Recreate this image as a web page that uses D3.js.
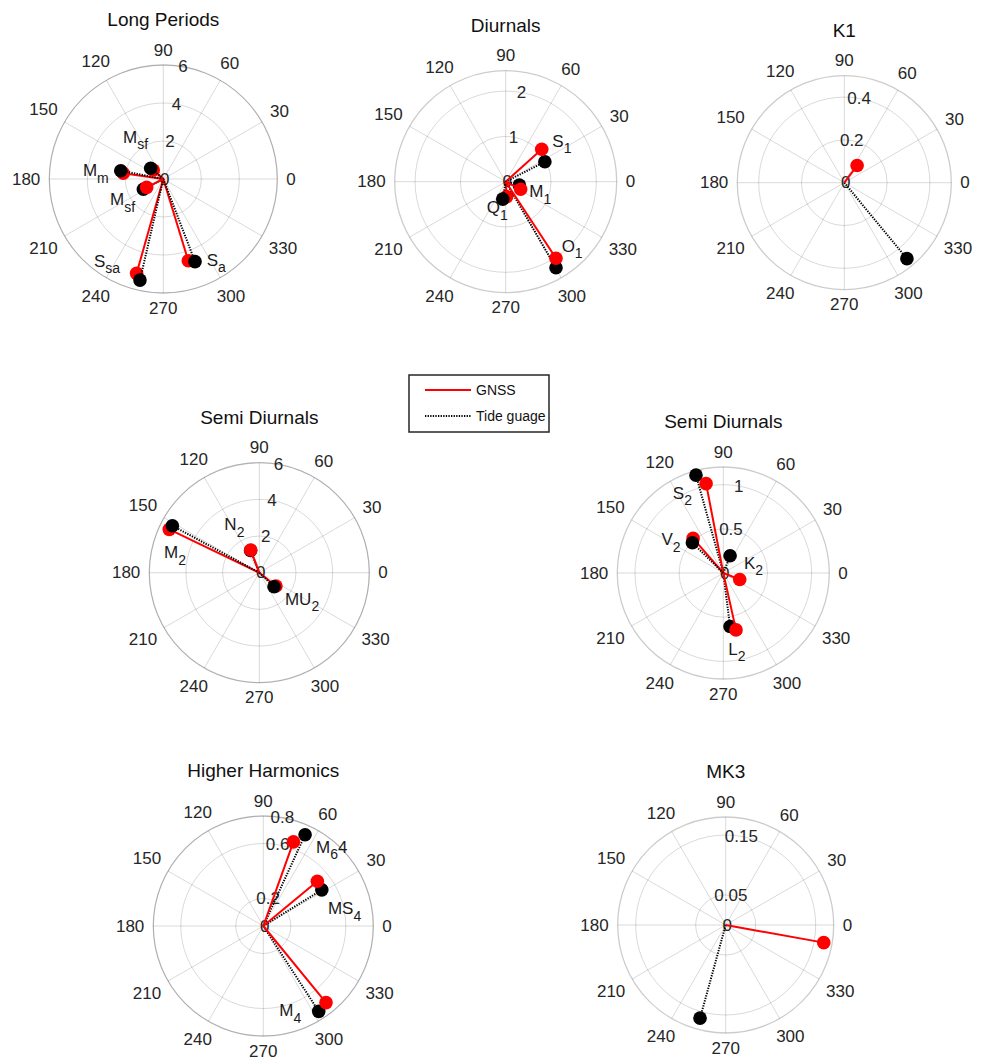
<!DOCTYPE html>
<html>
<head>
<meta charset="utf-8">
<script src="https://cdn.jsdelivr.net/npm/d3@7"></script>
<style>
  html, body { margin: 0; padding: 0; background: #fff; }
  svg { display: block; font-family: "Liberation Sans", Arial, Helvetica, sans-serif; }
</style>
</head>
<body>
<svg id="chart" width="986" height="1062"></svg>
<script>
// Tidal constituent amplitudes (cm) and phases (degrees), GNSS vs tide gauge.
// Labels use TeX-style subscripts, e.g. "M_{sf}".

// Long periods
const lpNames       = ["S_{a}", "S_{sa}", "M_{m}", "M_{sf}", "M_{sf}"];
const lpGnssAmp     = [4.50, 5.16, 2.13, 0.71, 0.98];
const lpGnssPhase   = [287.0, 254.2, 171.9, 138.0, 206.6];
const lpTideAmp     = [4.66, 5.46, 2.28, 0.87, 1.18];
const lpTidePhase   = [291.0, 257.0, 169.0, 139.7, 207.3];
const lpTicks       = [0, 2, 4, 6];
const lpRMax        = 6;

// Diurnals
const diNames       = ["S_{1}", "M_{1}", "Q_{1}", "O_{1}"];
const diGnssAmp     = [1.07, 0.37, 0.33, 2.02];
const diGnssPhase   = [42.0, 333.1, 273.8, 303.3];
const diTideAmp     = [0.97, 0.31, 0.39, 2.20];
const diTidePhase   = [27.0, 346.4, 260.3, 300.3];
const diTicks       = [0, 1, 2];
const diRMax        = 2.45;

// K1
const k1Names       = ["K_{1}"];
const k1GnssAmp     = [0.10];
const k1GnssPhase   = [53.2];
const k1TideAmp     = [0.46];
const k1TidePhase   = [309.5];
const k1Ticks       = [0, 0.2, 0.4];
const k1RMax        = 0.5;

// Semi diurnals (large)
const sdaNames      = ["M_{2}", "N_{2}", "MU_{2}"];
const sdaGnssAmp    = [5.45, 1.32, 1.16];
const sdaGnssPhase  = [154.3, 110.7, 321.5];
const sdaTideAmp    = [5.39, 1.30, 1.11];
const sdaTidePhase  = [151.6, 111.5, 316.4];
const sdaTicks      = [0, 2, 4, 6];
const sdaRMax       = 6;

// Semi diurnals (small)
const sdbNames      = ["S_{2}", "V_{2}", "K_{2}", "L_{2}"];
const sdbGnssAmp    = [1.03, 0.52, 0.20, 0.66];
const sdbGnssPhase  = [100.9, 131.1, 338.4, 282.6];
const sdbTideAmp    = [1.15, 0.49, 0.21, 0.61];
const sdbTidePhase  = [105.6, 135.6, 68.5, 277.2];
const sdbTicks      = [0, 0.5, 1];
const sdbRMax       = 1.2;

// Higher harmonics
const hhNames       = ["M_{6}4", "MS_{4}", "M_{4}"];
const hhGnssAmp     = [0.65, 0.51, 0.72];
const hhGnssPhase   = [70.3, 39.6, 309.3];
const hhTideAmp     = [0.73, 0.50, 0.74];
const hhTidePhase   = [65.4, 31.7, 303.0];
const hhTicks       = [0, 0.2, 0.6, 0.8];
const hhRMax        = 0.8;

// MK3
const mk3Names      = ["MK_{3}"];
const mk3GnssAmp    = [0.166];
const mk3GnssPhase  = [349.8];
const mk3TideAmp    = [0.161];
const mk3TidePhase  = [254.6];
const mk3Ticks      = [0, 0.05, 0.15];
const mk3RMax       = 0.18;

const angleTicks = [0, 30, 60, 90, 120, 150, 180, 210, 240, 270, 300, 330];
const legendLabels = ["GNSS", "Tide guage"];

// ---- layout ----
const layout = [
  { title: "Long Periods",     cx: 163.3, cy: 179.0, R: 114,
    labelOffsets: [[18.4, 5], [-42.7, -6.6], [-40.3, 2.7], [-30.3, -27], [-36.7, 17.7]],
    tideOnTop: [true, true, true, true, false] },
  { title: "Diurnals",         cx: 505.7, cy: 181.7, R: 111,
    labelOffsets: [[10.6, -2.6], [8.6, 8], [-20, 16.6], [5.7, -6.6]],
    tideOnTop: [false, false, true, false] },
  { title: "K1",               cx: 844.3, cy: 182.7, R: 107,
    labelOffsets: null, tideOnTop: [false] },
  { title: "Semi Diurnals",    cx: 259.3, cy: 572.7, R: 110,
    labelOffsets: [[-5.3, 29], [-26.4, -20], [9, 19]],
    tideOnTop: [true, false, true] },
  { title: "Semi Diurnals",    cx: 723.3, cy: 573.0, R: 106,
    labelOffsets: [[-33.3, 15], [-31.6, 6.7], [4.3, -11], [-7.7, 25]],
    tideOnTop: [false, true, false, false] },
  { title: "Higher Harmonics", cx: 263.3, cy: 926.0, R: 110,
    labelOffsets: [[22.7, 11], [10.6, 33], [-46.7, 13.7]],
    tideOnTop: [false, false, false] },
  { title: "MK3",              cx: 725.7, cy: 925.0, R: 108,
    labelOffsets: null, tideOnTop: [false] }
];

const dataSets = [
  { names: lpNames,  gAmp: lpGnssAmp,  gPh: lpGnssPhase,  tAmp: lpTideAmp,  tPh: lpTidePhase,  ticks: lpTicks,  rMax: lpRMax },
  { names: diNames,  gAmp: diGnssAmp,  gPh: diGnssPhase,  tAmp: diTideAmp,  tPh: diTidePhase,  ticks: diTicks,  rMax: diRMax },
  { names: k1Names,  gAmp: k1GnssAmp,  gPh: k1GnssPhase,  tAmp: k1TideAmp,  tPh: k1TidePhase,  ticks: k1Ticks,  rMax: k1RMax },
  { names: sdaNames, gAmp: sdaGnssAmp, gPh: sdaGnssPhase, tAmp: sdaTideAmp, tPh: sdaTidePhase, ticks: sdaTicks, rMax: sdaRMax },
  { names: sdbNames, gAmp: sdbGnssAmp, gPh: sdbGnssPhase, tAmp: sdbTideAmp, tPh: sdbTidePhase, ticks: sdbTicks, rMax: sdbRMax },
  { names: hhNames,  gAmp: hhGnssAmp,  gPh: hhGnssPhase,  tAmp: hhTideAmp,  tPh: hhTidePhase,  ticks: hhTicks,  rMax: hhRMax },
  { names: mk3Names, gAmp: mk3GnssAmp, gPh: mk3GnssPhase, tAmp: mk3TideAmp, tPh: mk3TidePhase, ticks: mk3Ticks, rMax: mk3RMax }
];

// ---- styles ----
const style = {
  gnss: { color: "#ff0000", dash: null },
  tide: { color: "#000000", dash: "1.3 1.3" },
  lineWidth: 2,
  markerR: 6.8,
  tickColor: "#262626",
  tickFont: 17,
  titleFont: 19,
  labelFont: 17,
  subFont: 14,
  subShift: 6.5
};

const svg = d3.select("#chart");
const DEG = Math.PI / 180;
// compass angle (counter-clockwise from east) -> d3 radial angle (clockwise from north)
const radial = a => (90 - a) * DEG;

// Parse "M_{sf}" style labels into text runs.
function parseLabel(s) {
  const runs = [];
  const re = /_\{([^}]*)\}|([^_]+)/g;
  let m;
  while ((m = re.exec(s)) !== null) {
    if (m[1] !== undefined) runs.push({ t: m[1], sub: true });
    else runs.push({ t: m[2], sub: false });
  }
  return runs;
}

function drawLabel(sel, str, x, y) {
  const text = sel.append("text")
    .attr("x", x).attr("y", y)
    .attr("fill", "#1a1a1a")
    .attr("font-size", style.labelFont);
  let shifted = false;
  parseLabel(str).forEach(run => {
    const ts = text.append("tspan").text(run.t);
    if (run.sub && !shifted) { ts.attr("dy", style.subShift).attr("font-size", style.subFont); shifted = true; }
    else if (!run.sub && shifted) { ts.attr("dy", -style.subShift); shifted = false; }
    else if (run.sub) ts.attr("font-size", style.subFont);
  });
}

layout.forEach((L, pi) => {
  const D = dataSets[pi];
  const g = svg.append("g").attr("transform", `translate(${L.cx},${L.cy})`);
  const r = d3.scaleLinear().domain([0, D.rMax]).range([0, L.R]);

  // spokes every 30 degrees
  g.append("g").selectAll("line").data(angleTicks).join("line")
    .attr("x1", 0).attr("y1", 0)
    .attr("x2", a => d3.pointRadial(radial(a), L.R)[0])
    .attr("y2", a => d3.pointRadial(radial(a), L.R)[1])
    .attr("stroke", "#000").attr("stroke-opacity", 0.15).attr("stroke-width", 1);

  // range rings
  g.append("g").selectAll("circle").data(D.ticks.filter(t => t > 0)).join("circle")
    .attr("r", t => r(t))
    .attr("fill", "none").attr("stroke", "#000").attr("stroke-opacity", 0.15).attr("stroke-width", 1);

  // outer boundary
  g.append("circle").attr("r", L.R)
    .attr("fill", "none").attr("stroke", "#000").attr("stroke-opacity", 0.2).attr("stroke-width", 1.3);

  // angle labels around the edge
  const gap = 9, h = 12;
  g.append("g").selectAll("text").data(angleTicks).join("text")
    .attr("text-anchor", "middle").attr("dominant-baseline", "central")
    .attr("fill", style.tickColor).attr("font-size", style.tickFont)
    .text(a => a)
    .each(function(a) {
      const w = this.getComputedTextLength();
      const c = Math.cos(a * DEG), s = Math.sin(a * DEG);
      const dist = L.R + gap + Math.abs(c) * w / 2 + Math.abs(s) * h / 2;
      d3.select(this).attr("x", dist * c).attr("y", -dist * s);
    });

  // radius tick labels along the 80 degree ray
  g.append("g").selectAll("text").data(D.ticks).join("text")
    .attr("text-anchor", "middle").attr("dominant-baseline", "central")
    .attr("fill", style.tickColor).attr("font-size", style.tickFont)
    .attr("x", t => d3.pointRadial(radial(80), r(t))[0] + (t === 0 ? 1.5 : 0))
    .attr("y", t => d3.pointRadial(radial(80), r(t))[1])
    .text(t => String(t));

  // title
  g.append("text")
    .attr("x", 0).attr("y", -L.R - 39)
    .attr("text-anchor", "middle")
    .attr("fill", "#111").attr("font-size", style.titleFont)
    .text(L.title);

  // vectors
  const line = d3.lineRadial().angle(d => radial(d.phase)).radius(d => r(d.amp));
  const dataG = g.append("g");
  D.names.forEach((name, i) => {
    const gn = { kind: "gnss", amp: D.gAmp[i], phase: D.gPh[i] };
    const tg = { kind: "tide", amp: D.tAmp[i], phase: D.tPh[i] };
    const order = L.tideOnTop[i] ? [gn, tg] : [tg, gn];
    order.forEach(pt => {
      const st = style[pt.kind];
      dataG.append("path")
        .attr("d", line([{ amp: 0, phase: pt.phase }, pt]))
        .attr("fill", "none").attr("stroke", st.color)
        .attr("stroke-width", style.lineWidth)
        .attr("stroke-dasharray", st.dash);
      const [x, y] = d3.pointRadial(radial(pt.phase), r(pt.amp));
      dataG.append("circle").attr("cx", x).attr("cy", y)
        .attr("r", style.markerR).attr("fill", st.color);
    });
  });

  // constituent labels, placed next to the GNSS marker
  if (L.labelOffsets) {
    D.names.forEach((name, i) => {
      const [x, y] = d3.pointRadial(radial(D.gPh[i]), r(D.gAmp[i]));
      const [ox, oy] = L.labelOffsets[i];
      drawLabel(g, name, x + ox, y + oy);
    });
  }
});

// legend
const lg = svg.append("g").attr("transform", "translate(409,375)");
lg.append("rect").attr("width", 140).attr("height", 57)
  .attr("fill", "#fff").attr("stroke", "#262626").attr("stroke-width", 1.5);
[["gnss", 15], ["tide", 41]].forEach(([k, y], i) => {
  lg.append("line").attr("x1", 16).attr("x2", 62).attr("y1", y).attr("y2", y)
    .attr("stroke", style[k].color).attr("stroke-width", style.lineWidth)
    .attr("stroke-dasharray", style[k].dash);
  lg.append("text").attr("x", 67).attr("y", y + 5)
    .attr("fill", "#111").attr("font-size", 14)
    .text(legendLabels[i]);
});
</script>
</body>
</html>
